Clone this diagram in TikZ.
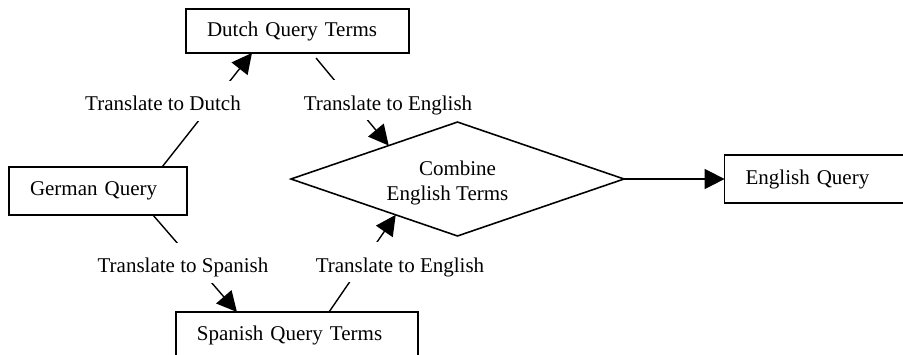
\documentclass[tikz,border=0pt]{standalone}
\usepackage{fontspec}
\setmainfont{Liberation Serif}
\usepackage{tikz}
\usetikzlibrary{arrows.meta}
\usetikzlibrary{shapes.geometric}
\usetikzlibrary{calc}
\def\pad{12pt}

\begin{document}
\begin{tikzpicture}[x=0.5714pt,y=-0.5714pt,
every node/.style={font=\fontsize{12pt}{13.9pt}\selectfont},
qbox/.style={draw,rectangle,line width=0.9pt,inner xsep=\pad,inner ysep=0pt,outer sep=0pt,align=left},
combinebox/.style={draw,diamond,aspect=2.92,line width=0.9pt,inner sep=0pt,outer sep=0pt,align=center,text height=26.6pt,minimum width=190.3pt,minimum height=65.1pt},
flow/.style={line width=0.8pt,-{Triangle[length=11.5pt,width=11.5pt]}},
trlabel/.style={fill=white,inner xsep=1pt,inner ysep=0pt,text height=17.1pt,text depth=5.7pt,anchor=base}]
\clip (0,0) rectangle (903,354);

%query boxes
\node[qbox,text width=103.4pt,minimum height=25.1pt] (dutch) at (297.5,31) {Dutch Query Terms};
\node[qbox,text width=77.7pt,minimum height=27.4pt] (german) at (98,191) {German Query};
\node[qbox,text width=114.3pt,minimum height=26.3pt] (spanish) at (297,335) {Spanish Query Terms};
\node[qbox,text width=85pt,minimum height=27.4pt] (english) at (820,179) {English Query};
\node[combinebox] (combine) at (457.5,179) {Combine\\English Terms\hspace*{11.4pt}};

%connectors, the labels go on top of them afterwards
\draw[flow] ([xshift=36.6pt]german.north) -- ([xshift=-26pt]dutch.south);
\draw[flow] ([xshift=10.6pt,yshift=-2.9pt]dutch.south) -- ($(combine.west)!0.587!(combine.north)$);
\draw[flow] ([xshift=31.4pt]german.south) -- ([xshift=-34.3pt]spanish.north);
\draw[flow] ([xshift=18.3pt]spanish.north) -- ($(combine.west)!0.629!(combine.south)$);
\draw[flow] (combine.east) -- (english.west);

%labels
\foreach \lbl/\x/\y/\txt in {todutch/163/110.7/Translate to Dutch,fromdutch/388/110/Translate to English,tospanish/183/272.7/Translate to Spanish,fromspanish/400/272/Translate to English}
	\node[trlabel] (\lbl) at (\x,\y) {\txt};
\end{tikzpicture}
\end{document}
